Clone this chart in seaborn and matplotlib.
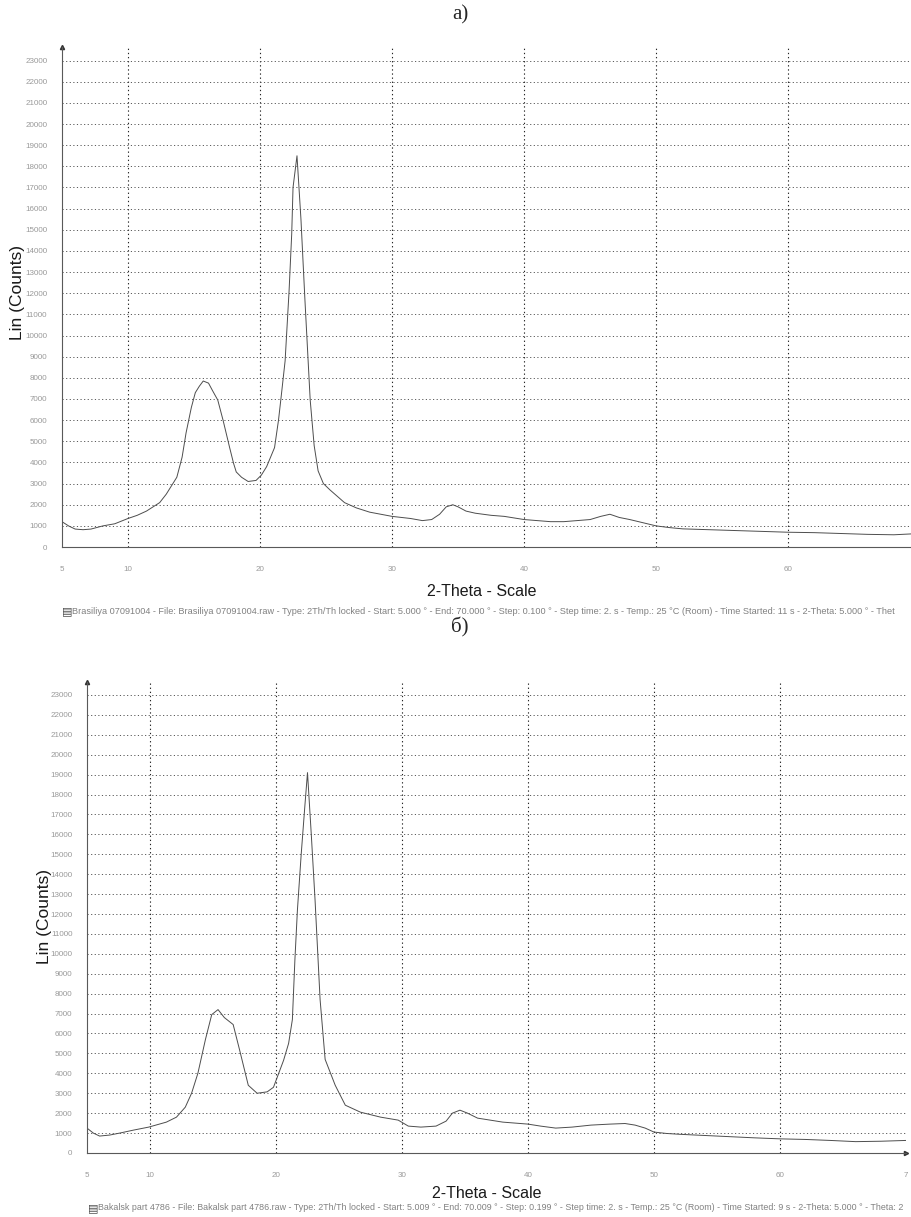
import numpy as np
import pandas as pd
import matplotlib
matplotlib.use("Agg")
import matplotlib.pyplot as plt
from matplotlib.ticker import FixedLocator, MultipleLocator
import seaborn as sns

# --- sample a) Brasiliya 07091004 ---
two_theta_a = [5, 5.5, 6, 6.6, 7.2, 8.1, 9, 10, 10.7, 11.4, 12.4, 12.9, 13.7, 14.1, 14.4,
               14.8, 15.1, 15.4, 15.7, 16.1, 16.4, 16.8, 17.2, 17.7, 18.0, 18.2, 18.6, 19.1,
               19.7, 20.1, 20.5, 21.1, 21.4, 21.6, 21.9, 22.1, 22.2, 22.4, 22.5, 22.8, 23.1,
               23.4, 23.8, 24.1, 24.4, 24.8, 25.3, 26.4, 27.3, 28.3, 30, 31.4, 32.3, 33.0,
               33.6, 34.1, 34.6, 35.0, 35.6, 36.3, 37.5, 38.5, 40, 41, 42, 43, 44, 45, 45.8,
               46.5, 47.2, 48, 49, 50, 51, 52, 54, 56, 58, 60, 62, 64, 66, 68, 69.3]
counts_a = [1200, 1000, 850, 820, 850, 1000, 1100, 1350, 1500, 1700, 2100, 2500, 3300, 4250,
            5400, 6600, 7300, 7600, 7850, 7750, 7400, 6950, 6000, 4700, 3950, 3550, 3300, 3100,
            3150, 3400, 3800, 4700, 6000, 7100, 8800, 11000, 12100, 14800, 17000, 18500, 15500,
            11700, 6950, 4800, 3600, 3000, 2700, 2100, 1850, 1650, 1450, 1350, 1250, 1300,
            1550, 1900, 2000, 1900, 1700, 1600, 1500, 1450, 1300, 1250, 1200, 1200, 1250, 1300,
            1450, 1550, 1400, 1300, 1150, 1000, 920, 860, 820, 780, 740, 700, 680, 640, 600,
            580, 620]

# --- sample б) Bakalsk part 4786 ---
two_theta_b = [5, 5.5, 6.0, 6.8, 7.6, 8.7, 9.9, 11.3, 12.1, 12.8, 13.3, 13.8, 14.4, 14.9, 15.4,
               15.9, 16.6, 17.1, 17.8, 18.5, 19.3, 19.8, 20.6, 21.0, 21.3, 21.5, 21.7, 22.0,
               22.3, 22.5, 22.8, 23.1, 23.5, 23.9, 24.7, 25.5, 26.7, 28.3, 29.7, 30.5, 31.5,
               32.7, 33.5, 34.0, 34.6, 35.2, 36.0, 37, 38, 39, 40, 41, 42.2, 43.5, 45, 46.5,
               47.7, 48.5, 49.3, 50, 51, 52, 54, 56, 58, 60, 62, 64, 66, 68, 70]
counts_b = [1250, 1000, 850, 900, 1000, 1150, 1300, 1550, 1800, 2300, 3000, 4000, 5700, 6950,
            7200, 6800, 6450, 5200, 3400, 3000, 3070, 3300, 4650, 5500, 6700, 9700, 12200,
            15000, 17500, 19100, 16000, 12700, 7700, 4700, 3400, 2400, 2050, 1800, 1650, 1350,
            1300, 1350, 1600, 2000, 2150, 2000, 1750, 1650, 1550, 1500, 1450, 1350, 1250, 1300,
            1400, 1450, 1480, 1400, 1250, 1050, 980, 940, 880, 820, 760, 710, 680, 630, 570,
            590, 630]

x_ticks_a = [5, 10, 20, 30, 40, 50, 60]
x_ticks_b = [5, 10, 20, 30, 40, 50, 60, 70]
x_labels_b = ["5", "10", "20", "30", "40", "50", "60", "7"]
y_ticks = list(range(0, 24000, 1000))

footer_a = ("Brasiliya 07091004 - File: Brasiliya 07091004.raw - Type: 2Th/Th locked - Start: 5.000 ° - "
            "End: 70.000 ° - Step: 0.100 ° - Step time: 2. s - Temp.: 25 °C (Room) - Time Started: 11 s - "
            "2-Theta: 5.000 ° - Thet")
footer_b = ("Bakalsk part 4786 - File: Bakalsk part 4786.raw - Type: 2Th/Th locked - Start: 5.009 ° - "
            "End: 70.009 ° - Step: 0.199 ° - Step time: 2. s - Temp.: 25 °C (Room) - Time Started: 9 s - "
            "2-Theta: 5.000 ° - Theta: 2")

sns.set_style("white")
plt.rcParams['font.family'] = ['Liberation Sans', 'DejaVu Sans']

fig = plt.figure(figsize=(9.11, 12.17), dpi=100)
ax_a = fig.add_axes([0.068, 0.5505, 0.932, 0.411])
ax_b = fig.add_axes([0.0955, 0.0526, 0.899, 0.387])


def style_axes(ax, x, y, xlim, xticks, xlabels):
    df = pd.DataFrame({"two_theta": x, "counts": y})
    sns.lineplot(data=df, x="two_theta", y="counts", ax=ax, color="0.3", linewidth=0.7,
                 sort=False)
    ax.set_xlim(*xlim)
    ax.set_ylim(0, 23650)
    ax.set_xlabel("")
    ax.set_ylabel("")
    for s in ["top", "right"]:
        ax.spines[s].set_visible(False)
    for s in ["left", "bottom"]:
        ax.spines[s].set_color("0.35")
        ax.spines[s].set_linewidth(0.8)
    ax.xaxis.set_major_locator(FixedLocator(xticks))
    ax.set_xticklabels(xlabels)
    ax.xaxis.set_minor_locator(MultipleLocator(1))
    ax.yaxis.set_major_locator(FixedLocator(y_ticks))
    ax.set_yticklabels([str(v) for v in y_ticks])
    ax.yaxis.set_minor_locator(MultipleLocator(500))
    ax.tick_params(axis="y", which="major", direction="inout", length=5, width=0.7,
                   color="0.35", labelsize=5.8, labelcolor="0.6", pad=8)
    ax.tick_params(axis="y", which="minor", direction="in", length=2.5, width=0.5, color="0.45")
    ax.tick_params(axis="x", which="major", direction="inout", length=7, width=0.7,
                   color="0.35", labelsize=5.8, labelcolor="0.6", pad=10)
    ax.tick_params(axis="x", which="minor", direction="out", length=3, width=0.5, color="0.45")
    # dotted grid
    for v in xticks[1:]:
        if v < xlim[1]:
            ax.axvline(v, color="0.15", linestyle=(0, (1.2, 2.5)), linewidth=0.8, zorder=0)
    for v in y_ticks[1:]:
        ax.axhline(v, color="0.35", linestyle=(0, (1.2, 2.5)), linewidth=0.7, zorder=0)
    # axis arrow
    ax.plot([0], [1], marker="^", markersize=3, color="0.2", transform=ax.transAxes,
            clip_on=False)


style_axes(ax_a, two_theta_a, counts_a, (5, 69.3), x_ticks_a, [str(v) for v in x_ticks_a])
style_axes(ax_b, two_theta_b, counts_b, (5, 70), x_ticks_b, x_labels_b)
ax_b.plot([1], [0], marker=">", markersize=3, color="0.2", transform=ax_b.transAxes,
          clip_on=False)

# panel labels
fig.text(460 / 911, 1 - 15 / 1217, "а)", family=["Liberation Serif", "DejaVu Serif"],
         fontsize=15, ha="center", va="center")
fig.text(460 / 911, 1 - 627 / 1217, "б)", family=["Liberation Serif", "DejaVu Serif"],
         fontsize=15, ha="center", va="center")

# axis titles
fig.text(18 / 911, 1 - 293 / 1217, "Lin (Counts)", rotation=90, fontsize=12.5,
         ha="center", va="center", color="0.1")
fig.text(45 / 911, 1 - 917 / 1217, "Lin (Counts)", rotation=90, fontsize=12.5,
         ha="center", va="center", color="0.1")
fig.text(482 / 911, 1 - 591 / 1217, "2-Theta - Scale", fontsize=11.5, ha="center",
         va="center", color="0.1")
fig.text(487 / 911, 1 - 1194 / 1217, "2-Theta - Scale", fontsize=11.5, ha="center",
         va="center", color="0.1")

# footers with the small scan icon
for x0, y0, txt, fs in [(62, 611, footer_a, 6.6), (88, 1208, footer_b, 6.4)]:
    fig.text(x0 / 911, 1 - y0 / 1217, "\u25a4", fontsize=8, color="0.3", ha="left", va="center")
    fig.text((x0 + 10) / 911, 1 - y0 / 1217, txt, fontsize=fs, color="0.5", ha="left",
             va="center")

fig.savefig("out.png", dpi=100)
